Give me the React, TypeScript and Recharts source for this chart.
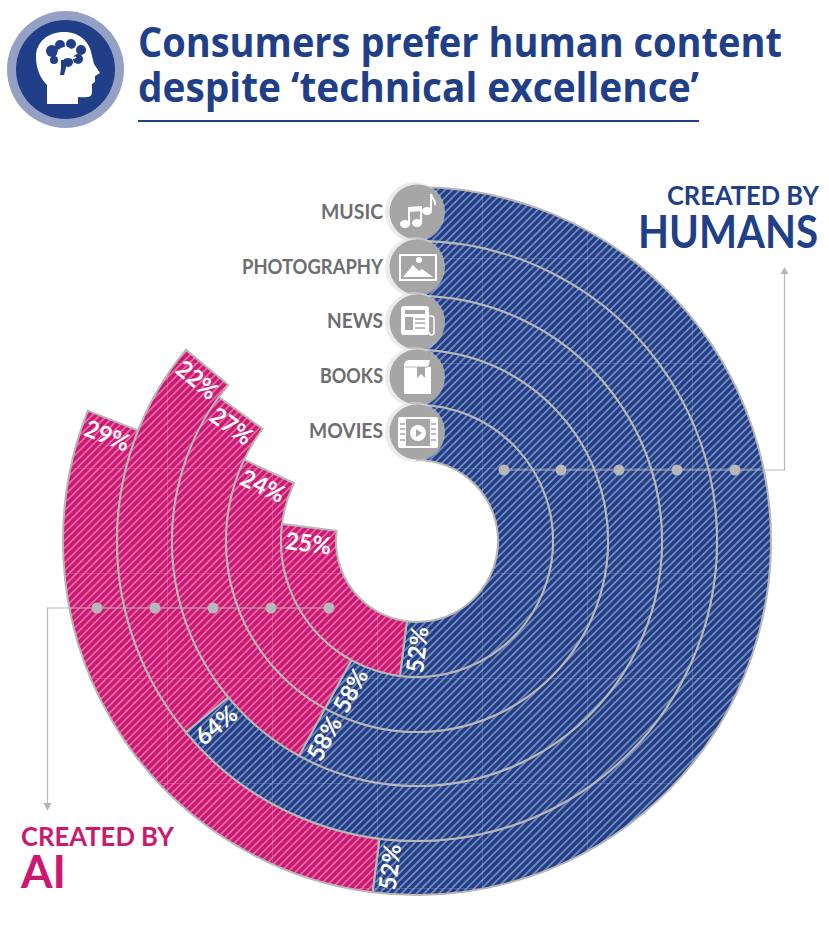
import { Cell, Pie, PieChart } from "recharts";

const CATEGORIES = ["MUSIC", "PHOTOGRAPHY", "NEWS", "BOOKS", "MOVIES"];
const HUMAN_VALUES = [52, 64, 58, 58, 52];
const AI_VALUES = [29, 22, 27, 24, 25];

const NAVY = "#213f88";
const PINK = "#cb1870";
const GREY = "#b7b7b7";
const LABEL_GREY = "#6d6e71";
const FONT = "Lato, 'Open Sans', sans-serif";
const TITLE_FONT = "'Open Sans', Lato, sans-serif";

const CX = 417;
const CY = 541;
const RING_EDGES = [354, 300, 245, 191, 136, 81];
const ICON_Y = [212, 267, 322, 377, 432];
const LABEL_Y = [219, 274, 328, 383, 438];
const LABEL_W = [62, 141, 56, 63, 74];
const HUMAN_DOTS_X = [504, 561, 619, 677, 735];
const AI_DOTS_X = [97, 155, 213, 271, 329];
const TILE = 105;
const STRIPES = 14;

function ringData(i: number) {
  return [
    { name: "Created by humans", value: HUMAN_VALUES[i] },
    { name: "Created by AI", value: AI_VALUES[i] },
    { name: "Other", value: 100 - HUMAN_VALUES[i] - AI_VALUES[i] },
  ];
}

function StripePattern({ id, base, stripe }: { id: string; base: string; stripe: string }) {
  const step = TILE / STRIPES;
  const offsets = Array.from({ length: STRIPES * 2 + 1 }, (_, k) => k * step);
  return (
    <pattern id={id} patternUnits="userSpaceOnUse" x={167} y={363} width={TILE} height={TILE}>
      <rect width={TILE} height={TILE} fill={base} />
      {offsets.map((o) => (
        <line key={o} x1={o} y1={0} x2={o - TILE} y2={TILE} stroke={stripe} strokeWidth={1.9} />
      ))}
      <path d={`M0.5 0V${TILE}M0 0.5H${TILE}`} stroke="#fff" strokeOpacity={0.16} fill="none" />
    </pattern>
  );
}

function SliceLabel(props: any) {
  const { index, value, endAngle, innerRadius, outerRadius } = props;
  if (index > 1) return null;
  const r = (innerRadius + outerRadius) / 2;
  const theta = 90 - endAngle;
  const back = ((index === 0 ? 13 : 15) / r) * (180 / Math.PI);
  const a = ((theta - back) * Math.PI) / 180;
  const x = CX + r * Math.sin(a);
  const y = CY - r * Math.cos(a);
  return (
    <text
      x={x}
      y={y}
      transform={`rotate(${theta - 270} ${x} ${y})`}
      textAnchor="middle"
      dominantBaseline="central"
      fill="#fff"
      fontFamily={FONT}
      fontWeight={700}
      fontSize={24}
      textLength={46}
      lengthAdjust="spacingAndGlyphs"
    >
      {value}%
    </text>
  );
}

function Icon({ kind, y }: { kind: number; y: number }) {
  const white = { fill: "#fff" };
  const line = { fill: "none", stroke: "#fff" };
  let body = null;
  if (kind === 0) {
    body = (
      <g>
        <ellipse cx={-13} cy={11} rx={5} ry={4} {...white} />
        <ellipse cx={-1} cy={10} rx={5} ry={4} {...white} />
        <path d="M-9 11V-5L3 -6V10" {...line} strokeWidth={2} />
        <path d="M-9 -5L3 -6V-2L-9 -1Z" {...white} />
        <ellipse cx={9} cy={-2} rx={5} ry={4} {...white} />
        <path d="M13 -3V-19C14 -14 18 -13 17 -8" {...line} strokeWidth={2} />
      </g>
    );
  } else if (kind === 1) {
    body = (
      <g>
        <rect x={-18} y={-13} width={36} height={25} {...line} strokeWidth={2} />
        <path d="M-15 9L-5 -3L1 3L4 1L15 9Z" {...white} />
        <circle cx={1} cy={-8} r={3} {...white} />
      </g>
    );
  } else if (kind === 2) {
    body = (
      <g>
        <rect x={-17} y={-17} width={28} height={29} rx={3} {...white} />
        <path d="M11 -7H14C16 -7 16 -5 16 -3V9C16 13 11 13 11 9" {...line} strokeWidth={1.5} />
        <rect x={-13} y={-13} width={20} height={4} fill="#a6a6a6" />
        <rect x={-13} y={-6} width={8} height={13} fill="#a6a6a6" />
        <path d="M-3 -4H7M-3 0H7M-3 5H7" stroke="#a6a6a6" strokeWidth={1.6} />
      </g>
    );
  } else if (kind === 3) {
    body = (
      <g>
        <path d="M-14 -12C-14 -16 -12 -18 -8 -18H12L10 -11H13V16H-14Z" {...white} />
        <path d="M-13 -11H10" stroke="#a6a6a6" strokeWidth={0.8} />
        <path d="M-1 -11H7V0L3 -4L-1 0Z" fill="#a6a6a6" />
      </g>
    );
  } else {
    body = (
      <g>
        <rect x={-19} y={-15} width={38} height={29} rx={1} {...line} strokeWidth={2} />
        <rect x={-19} y={-15} width={7} height={29} {...white} />
        <rect x={12} y={-15} width={7} height={29} {...white} />
        <path d="M-18 -9H-13M-18 -4H-13M-18 1H-13M-18 7H-13M13 -9H18M13 -4H18M13 1H18M13 7H18" stroke="#a6a6a6" strokeWidth={1.5} />
        <circle cx={0} cy={0} r={8} {...white} />
        <path d="M-2 -4L4 0L-2 4Z" fill="#a6a6a6" />
      </g>
    );
  }
  return (
    <g>
      <circle cx={CX - 2} cy={y} r={30} fill="#dddddd" fillOpacity={0.55} />
      <circle cx={CX} cy={y} r={27.5} fill="#a6a6a6" />
      <g transform={`translate(${CX + 1} ${y + 1})`}>{body}</g>
    </g>
  );
}

function Header() {
  return (
    <g>
      <circle cx={65.5} cy={69.5} r={58.5} fill="#94a1c5" />
      <circle cx={65.5} cy={69.5} r={49.5} fill={NAVY} />
      <path
        d="M47 104V85C40 78 36 68 36 57C36 42 48 32 64 32C80 32 90 42 92 56L94 64L100 73L95 76V82L92 84V92C92 97 88 98 78 97V104Z"
        fill="#fff"
      />
      <g fill={NAVY}>
        <circle cx={52} cy={51} r={6} />
        <circle cx={60} cy={45} r={5} />
        <circle cx={71} cy={44} r={5} />
        <circle cx={81} cy={50} r={5} />
        <circle cx={78} cy={59} r={5} />
        <circle cx={68} cy={62} r={5} />
        <circle cx={54} cy={60} r={4} />
        <path d="M61 60H66V68L64 75H60L61 68Z" />
      </g>
      <path d="M58 54C60 47 68 46 72 52" fill="none" stroke="#fff" strokeWidth={2.5} />
      <path d="M64 58C70 55 72 60 76 57" fill="none" stroke="#fff" strokeWidth={2} />
      <g fill={NAVY} fontFamily={TITLE_FONT} fontWeight={700} fontSize={42}>
        <text x={138} y={57} textLength={644} lengthAdjust="spacingAndGlyphs">Consumers prefer human content</text>
        <text x={138} y={102} textLength={561} lengthAdjust="spacingAndGlyphs">despite ‘technical excellence’</text>
      </g>
      <rect x={138} y={120} width={561} height={2} fill={NAVY} />
    </g>
  );
}

export default function App() {
  return (
    <div style={{ position: "absolute", left: 0, top: 0, width: 829, height: 927, background: "#fff" }}>
      <PieChart width={829} height={927} margin={{ top: 0, right: 0, bottom: 0, left: 0 }}>
        <defs>
          <StripePattern id="navyStripes" base={NAVY} stripe="#7488b8" />
          <StripePattern id="pinkStripes" base={PINK} stripe="#e667a6" />
        </defs>
        {CATEGORIES.map((c, i) => (
          <Pie
            key={c}
            data={ringData(i)}
            dataKey="value"
            nameKey="name"
            cx={CX}
            cy={CY}
            outerRadius={RING_EDGES[i]}
            innerRadius={RING_EDGES[i + 1]}
            startAngle={90}
            endAngle={-270}
            isAnimationActive={false}
            labelLine={false}
            label={SliceLabel}
          >
            <Cell fill="url(#navyStripes)" stroke={GREY} strokeWidth={2} />
            <Cell fill="url(#pinkStripes)" stroke={GREY} strokeWidth={2} />
            <Cell fill="none" stroke="none" />
          </Pie>
        ))}
      </PieChart>
      <svg width={829} height={927} style={{ position: "absolute", left: 0, top: 0, pointerEvents: "none" }}>
        <Header />
        <g fill="none" stroke={GREY} strokeWidth={1.2}>
          <path d="M504 470H784.5V272" />
          <path d="M329 608H47.5V805" />
        </g>
        <path d="M784.5 267L780.5 274H788.5Z" fill={GREY} />
        <path d="M47.5 811L43.5 803H51.5Z" fill={GREY} />
        {HUMAN_DOTS_X.map((x) => (
          <circle key={x} cx={x} cy={470} r={5.5} fill={GREY} />
        ))}
        {AI_DOTS_X.map((x) => (
          <circle key={x} cx={x} cy={608} r={5.5} fill={GREY} />
        ))}
        {CATEGORIES.map((c, i) => (
          <g key={c}>
            <Icon kind={i} y={ICON_Y[i]} />
            <text
              x={383}
              y={LABEL_Y[i]}
              textAnchor="end"
              fill={LABEL_GREY}
              fontFamily={FONT}
              fontWeight={700}
              fontSize={21}
              textLength={LABEL_W[i]}
              lengthAdjust="spacingAndGlyphs"
            >
              {c}
            </text>
          </g>
        ))}
        <g fontFamily={FONT} fontWeight={700}>
          <text x={667} y={205} fill={NAVY} fontSize={27} textLength={152} lengthAdjust="spacingAndGlyphs">CREATED BY</text>
          <text x={638} y={248} fill={NAVY} fontSize={45} textLength={180} lengthAdjust="spacingAndGlyphs">HUMANS</text>
          <text x={21} y={846} fill={PINK} fontSize={27} textLength={153} lengthAdjust="spacingAndGlyphs">CREATED BY</text>
          <text x={21} y={888} fill={PINK} fontSize={45} textLength={45} lengthAdjust="spacingAndGlyphs">AI</text>
        </g>
      </svg>
    </div>
  );
}
